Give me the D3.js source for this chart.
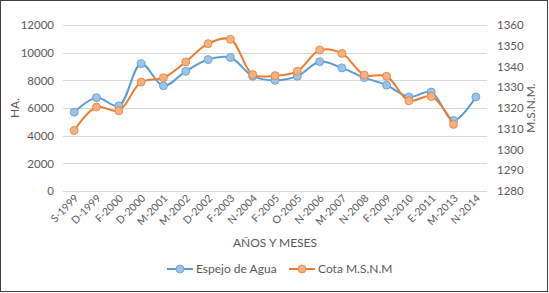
<!DOCTYPE html>
<html><head><meta charset="utf-8">
<script src="https://cdn.jsdelivr.net/npm/d3@7"></script>
<style>body{margin:0;background:#fff}svg{display:block}text{font-family:Lato,"Open Sans",sans-serif;fill:#595959}</style>
</head><body><svg id="c" width="549" height="293"></svg>
<script>
const categories = ["S-1999","D-1999","F-2000","D-2000","M-2001","M-2002","D-2002","F-2003","N-2004","F-2005","O-2005","N-2006","M-2007","N-2008","F-2009","N-2010","E-2011","M-2013","N-2014"];
const espejo = [5700,6750,6150,9200,7600,8650,9500,9650,8300,8000,8300,9350,8900,8200,7650,6800,7150,5100,6800];
const cota = [1309.2,1320.5,1318.7,1332.5,1334.6,1342.2,1351,1353.1,1336.1,1335.6,1337.7,1347.9,1346.3,1335.9,1335.3,1323.5,1325.6,1312.1,null];
const leftTicks = [0,2000,4000,6000,8000,10000,12000];
const rightTicks = [1280,1290,1300,1310,1320,1330,1340,1350,1360];
const seriesNames = ["Espejo de Agua","Cota M.S.N.M"];

const svg = d3.select("#c");
const L=63, R=487, T=25, B=191;
const FONT = "Lato,'Open Sans',sans-serif";
const x = d3.scaleBand().domain(categories).range([L,R]);
const yL = d3.scaleLinear().domain([0,12000]).range([B,T]);
const yR = d3.scaleLinear().domain([1280,1360]).range([B,T]);

svg.append("rect").attr("x",0.5).attr("y",0.5).attr("width",547).attr("height",291).attr("fill","#fff").attr("stroke","#404040");

// gridlines
svg.append("g").selectAll("line").data(leftTicks).join("line")
  .attr("x1",L).attr("x2",R).attr("y1",d=>Math.round(yL(d))+0.5).attr("y2",d=>Math.round(yL(d))+0.5)
  .attr("stroke","#d9d9d9").attr("stroke-width",1);

// left axis
const gl = svg.append("g").attr("transform",`translate(${L-9},0)`)
  .call(d3.axisLeft(yL).tickValues(leftTicks).tickFormat(d3.format("d")).tickSize(0).tickPadding(0));
gl.select(".domain").remove();
gl.selectAll("text").attr("font-size",11.5).style("fill","#595959").attr("font-family",FONT);

// right axis
const gr = svg.append("g").attr("transform",`translate(${R+10},0)`)
  .call(d3.axisRight(yR).tickValues(rightTicks).tickFormat(d3.format("d")).tickSize(0).tickPadding(0));
gr.select(".domain").remove();
gr.selectAll("text").attr("font-size",11.5).style("fill","#595959").attr("font-family",FONT);

// x axis
const gx = svg.append("g").attr("transform",`translate(0,${B})`)
  .call(d3.axisBottom(x).tickSize(0).tickPadding(0));
gx.select(".domain").remove();
gx.selectAll("text").attr("font-size",10.5).style("fill","#595959").attr("font-family",FONT)
  .attr("text-anchor","end").attr("dy","0").attr("transform","translate(5,8) rotate(-45)");

// axis titles
svg.append("text").attr("transform","translate(19,108) rotate(-90)").attr("text-anchor","middle").attr("font-size",12).text("HA.");
svg.append("text").attr("transform","translate(535,108) rotate(-90)").attr("text-anchor","middle").attr("font-size",12).text("M.S.N.M.");
svg.append("text").attr("x",275).attr("y",247).attr("text-anchor","middle").attr("font-size",12).text("AÑOS Y MESES");

const cx = d => x(d)+x.bandwidth()/2;
const colors = [{line:"#5b9bd5",fill:"#9dc3e6"},{line:"#ed7d31",fill:"#f4b183"}];
const series = [
  {vals: espejo, y: yL, c: colors[0]},
  {vals: cota, y: yR, c: colors[1]}
];
series.forEach(s=>{
  const pts = categories.map((k,i)=>({k, v:s.vals[i]})).filter(p=>p.v!=null);
  const line = d3.line().x(p=>cx(p.k)).y(p=>s.y(p.v)).curve(d3.curveCatmullRom.alpha(0.5));
  svg.append("path").datum(pts).attr("d",line).attr("fill","none").attr("stroke",s.c.line).attr("stroke-width",2);
  svg.append("g").selectAll("circle").data(pts).join("circle")
    .attr("cx",p=>cx(p.k)).attr("cy",p=>s.y(p.v)).attr("r",4)
    .attr("fill",s.c.fill).attr("stroke",s.c.line).attr("stroke-width",0.8);
});

// legend
const leg = [{x:167, name:seriesNames[0], c:colors[0]},{x:289, name:seriesNames[1], c:colors[1]}];
leg.forEach(l=>{
  const g = svg.append("g");
  g.append("line").attr("x1",l.x).attr("x2",l.x+26).attr("y1",269).attr("y2",269).attr("stroke",l.c.line).attr("stroke-width",2);
  g.append("circle").attr("cx",l.x+13).attr("cy",269).attr("r",4).attr("fill",l.c.fill).attr("stroke",l.c.line).attr("stroke-width",0.8);
  g.append("text").attr("x",l.x+29).attr("y",273).attr("font-size",12).text(l.name);
});
</script></body></html>
